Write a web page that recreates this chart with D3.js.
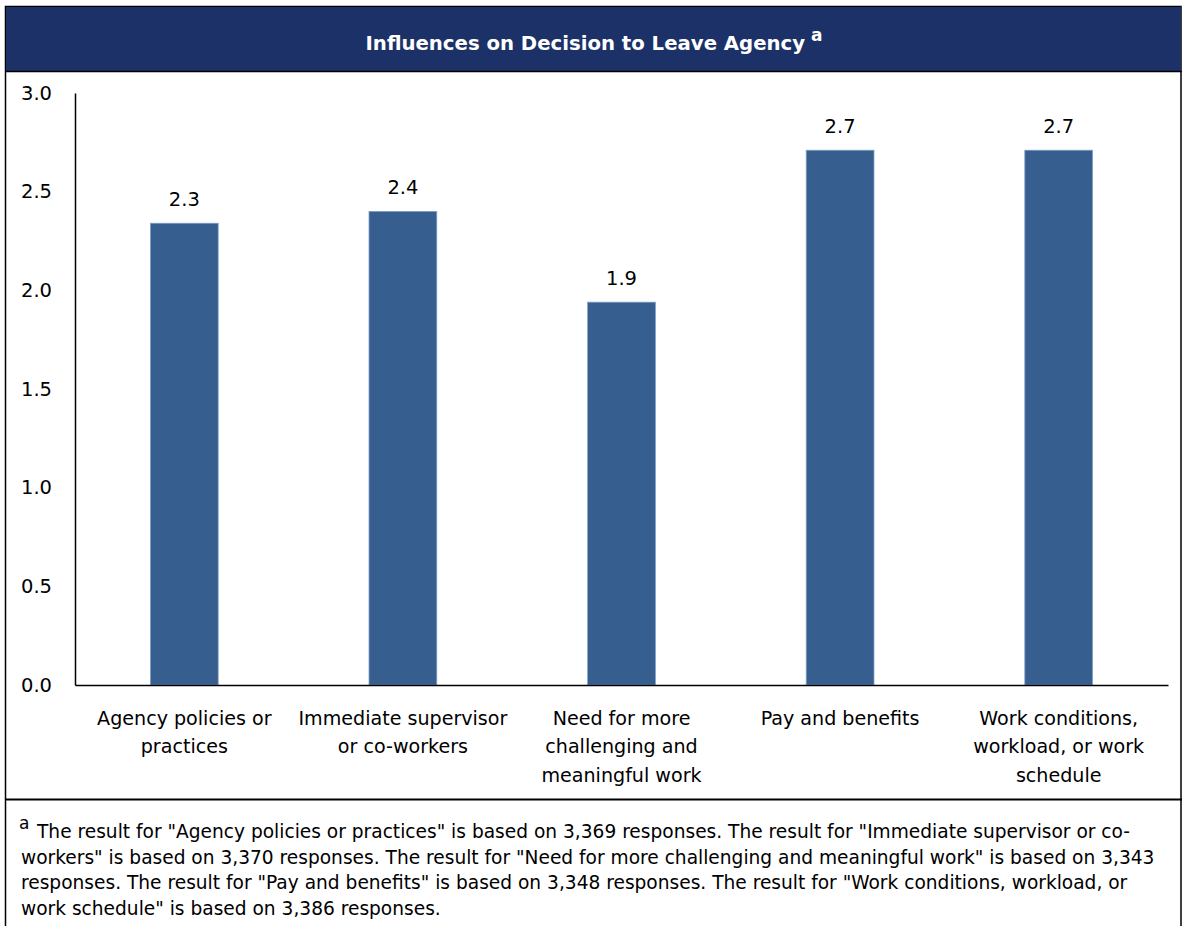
<!DOCTYPE html>
<html><head><meta charset="utf-8">
<script src="https://cdn.jsdelivr.net/npm/d3@7"></script>
<style>
html,body{margin:0;padding:0;background:#fff;}
svg{display:block;}
text{font-family:"DejaVu Sans",Tahoma,sans-serif;}
</style></head>
<body>
<script>
const categories = [
  ["Agency policies or","practices"],
  ["Immediate supervisor","or co-workers"],
  ["Need for more","challenging and","meaningful work"],
  ["Pay and benefits"],
  ["Work conditions,","workload, or work","schedule"]
];
const values = [2.34, 2.40, 1.94, 2.71, 2.71];
const valueLabels = ["2.3","2.4","1.9","2.7","2.7"];
const yTicks = [0,0.5,1,1.5,2,2.5,3];
const title = "Influences on Decision to Leave Agency";
const footnoteLines = [
  "The result for \"Agency policies or practices\" is based on 3,369 responses. The result for \"Immediate supervisor or co-",
  "workers\" is based on 3,370 responses. The result for \"Need for more challenging and meaningful work\" is based on 3,343",
  "responses. The result for \"Pay and benefits\" is based on 3,348 responses. The result for \"Work conditions, workload, or",
  "work schedule\" is based on 3,386 responses."
];

const W = 1183, H = 926;
const svg = d3.select("body").append("svg").attr("width", W).attr("height", H);

// frame
svg.append("rect").attr("x",5.5).attr("y",6.5).attr("width",1175.5).attr("height",930)
  .attr("fill","#fff").attr("stroke","#000").attr("stroke-width",1.5);
svg.append("rect").attr("x",6).attr("y",7).attr("width",1175).attr("height",64).attr("fill","#1b3168");
svg.append("line").attr("x1",5).attr("x2",1182).attr("y1",71.5).attr("y2",71.5).attr("stroke","#000").attr("stroke-width",1.5);
svg.append("line").attr("x1",5).attr("x2",1182).attr("y1",799.5).attr("y2",799.5).attr("stroke","#000").attr("stroke-width",2);

// title
const t = svg.append("text").attr("x",594).attr("y",50).attr("text-anchor","middle")
  .attr("fill","#fff").attr("font-weight","bold").attr("font-size",19.7);
t.append("tspan").text(title);
t.append("tspan").attr("font-size",17).attr("dy",-9).text(" a");

// scales
const x = d3.scaleBand().domain(d3.range(values.length)).range([75,1168]).paddingInner(0.69).paddingOuter(0.345);
const y = d3.scaleLinear().domain([0,3]).range([685,93]);

// bars
svg.append("g").selectAll("rect").data(values).join("rect")
  .attr("x",(d,i)=>x(i)).attr("width",x.bandwidth())
  .attr("y",d=>y(d)).attr("height",d=>y(0)-y(d))
  .attr("fill","#365e8f").attr("stroke","#7f9fc6").attr("stroke-width",0.8);

// value labels
svg.append("g").selectAll("text").data(values).join("text")
  .attr("x",(d,i)=>x(i)+x.bandwidth()/2).attr("y",d=>y(d)-17)
  .attr("text-anchor","middle").attr("font-size",19.5).attr("fill","#000")
  .text((d,i)=>valueLabels[i]);

// y axis
const ya = svg.append("g").attr("transform","translate(75,0)")
  .call(d3.axisLeft(y).tickValues(yTicks).tickFormat(d3.format(".1f")).tickSize(0).tickPadding(23));
ya.select(".domain").attr("stroke","#000").attr("stroke-width",1.5);
ya.selectAll("text").attr("font-size",19.5).attr("fill","#000").attr("font-family","DejaVu Sans");

// x axis
const xa = svg.append("g").attr("transform","translate(0,685)")
  .call(d3.axisBottom(x).tickSize(0).tickFormat(""));
xa.select(".domain").attr("stroke","#000").attr("stroke-width",1.5);
xa.selectAll(".tick").each(function(d){
  const g = d3.select(this);
  g.select("text").remove();
  const tx = g.append("text").attr("text-anchor","middle").attr("fill","#000").attr("font-size",19.1)
    .attr("font-family","DejaVu Sans");
  categories[d].forEach((line,k)=>{
    tx.append("tspan").attr("x",0).attr("y",39.5 + k*28.5).text(line);
  });
});

// footnote
const fn = svg.append("text").attr("font-size",18.6).attr("fill","#000");
fn.append("tspan").attr("x",19).attr("y",829).attr("font-size",17).text("a");
fn.append("tspan").attr("x",37).attr("y",838).text(footnoteLines[0]);
footnoteLines.slice(1).forEach((l,k)=>{
  fn.append("tspan").attr("x",21).attr("y",863.5 + k*25.5).text(l);
});
</script>
</body></html>
